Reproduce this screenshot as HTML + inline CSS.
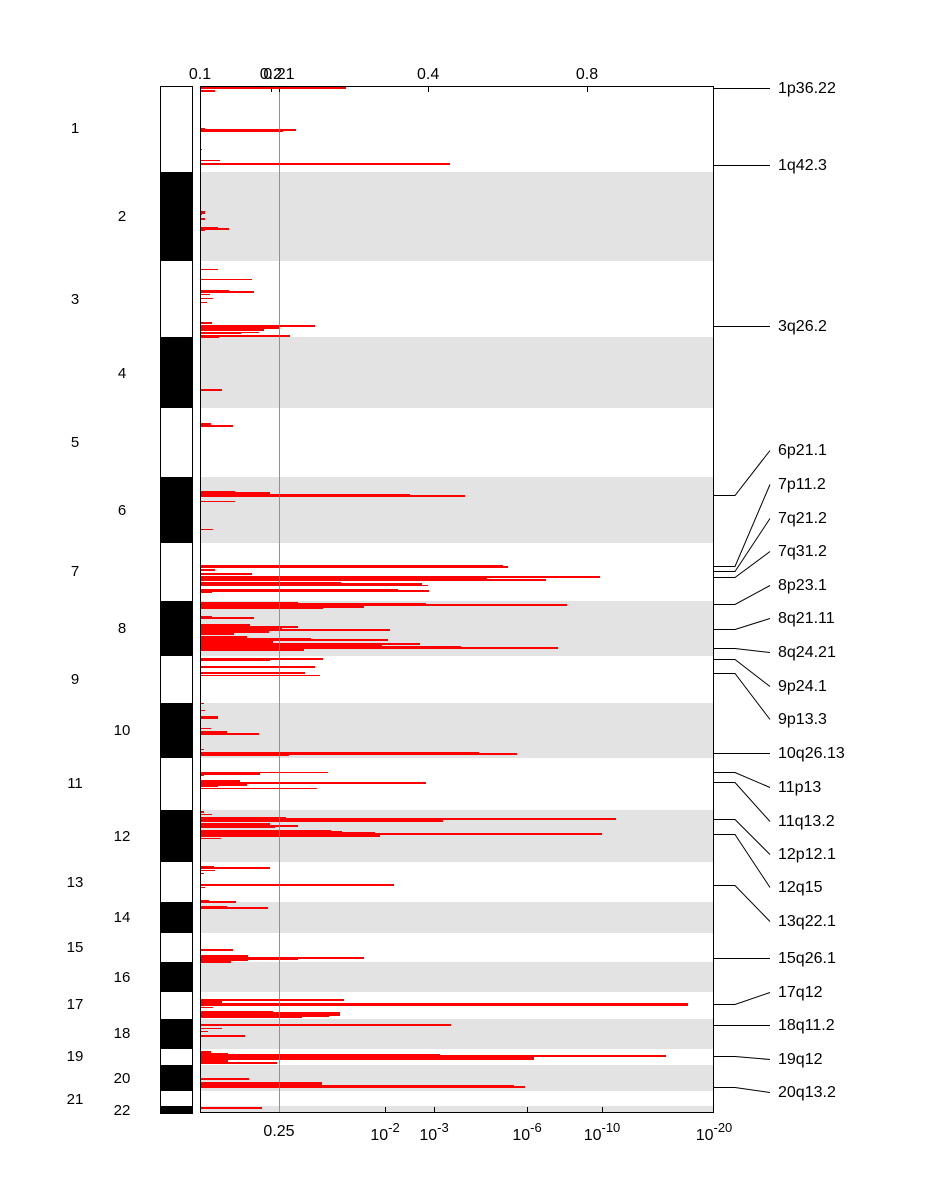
<!DOCTYPE html>
<html><head><meta charset="utf-8"><style>
body{margin:0;background:#fff;}
svg{display:block;font-family:"Liberation Sans",sans-serif;}
</style></head><body>
<svg id="chart" width="948" height="1200" viewBox="0 0 948 1200" xmlns="http://www.w3.org/2000/svg">
<g id="bands"></g>
<g id="bars"></g>
<g id="axes"></g>
<g id="peaks"></g>
</svg>
<script>
const chromNames=["1","2","3","4","5","6","7","8","9","10","11","12","13","14","15","16","17","18","19","20","21","22"];
const chromStart=[86,172,261,337,408,477,543,601,656,703,758,810,862,902,933,962,992,1019,1049,1065,1091,1106];
const chromEnd=[172,261,337,408,477,543,601,656,703,758,810,862,902,933,962,992,1019,1049,1065,1091,1106,1113];
const chromLabelY=[128,216,299,373,442,510,571,628,679,730,783,836,882,917,947,977,1004,1033,1056,1078,1099,1110];
// -log10(q) values per bar
const barPos=[88,91,129,130,131,149,160,164, 212,214,219,228,229,230, 269,279,291,292,294,298,302,323,325,326,327,328,329,330,332,333,336,337, 390,424,426,
491,493,495,496,501,529, 566,567,570,574,576,577,579,580,582,584,585,590,591,592,
603,604,605,607,608,617,618,625,627,629,630,632,634,637,639,640,642,644,645,647,648,650,
659,660,667,672,673,675, 703,710,717,728,732,734,749,753,754,755,
772,773,775,782,783,785,786,788, 812,814,818,819,821,825,826,827,831,832,833,834,836,838,
867,868,870,873,885,887, 901,902,907,908, 950,956,958,959,960,962,
1000,1002,1004,1007,1012,1014,1016,1017, 1025,1028,1031,1036,
1052,1054,1055,1056,1058,1059,1061,1063, 1079,1083,1086,1087,1108];
const barValue=[1.49,0.114,0.038,0.826,0.655,0.015,0.152,3.52, 0.038,0.015,0.038,0.137,0.221,0.038, 0.137,0.396,0.221,0.411,0.076,0.099,0.053,0.091,0.358,1.077,0.602,0.488,0.488,0.282,0.449,0.312,0.747,0.145, 0.168,0.083,0.251,
0.267,0.533,2.50,4.0,0.267,0.099, 5.23,5.39,0.114,0.396,1.47,9.89,4.71,7.01,1.42,2.755,2.88,2.27,2.90,0.09,
0.85,2.84,8.13,1.72,1.18,0.091,0.411,0.38,0.85,0.64,2.10,0.526,0.259,0.358,1.02,2.06,0.56,2.71,1.96,3.87,7.65,0.93,
1.18,0.533,1.08,0.267,0.95,1.14, 0.03,0.038,0.137,0.083,0.206,0.449,0.03,4.45,5.68,0.73,
1.25,0.457,0.03,0.305,2.84,0.358,0.137,1.10, 0.03,0.091,0.69,11.25,3.29,0.53,0.85,0.57,1.29,1.43,1.87,10.0,1.94,0.16,
0.107,0.53,0.114,0.03,2.18,0.038, 0.068,0.275,0.206,0.52, 0.251,0.366,1.72,0.85,0.366,0.236,
1.46,0.168,17.7,0.099,0.56,1.41,1.26,0.90, 3.55,0.17,0.06,0.343,
0.083,0.213,3.19,15.7,6.37,1.49,0.213,0.59, 0.37,1.17,5.58,5.94,0.47];
const barThick=[2,2,3,2,2,1,1,2, 3,1,2,3,2,1, 1,1,3,2,1,1,1,2,1,2,3,2,3,2,1,1,2,1, 2,3,2,
1,2,3,2,1,1, 3,2,2,2,1,2,3,2,1,2,1,3,2,1,
3,2,2,2,1,3,2,3,2,4,2,2,2,2,3,2,2,2,1,3,2,2,
2,1,2,1,2,1, 1,1,3,1,2,2,1,3,2,2,
1,3,1,4,2,2,2,1, 2,1,3,2,2,4,2,2,2,2,3,2,2,1,
3,2,1,1,2,1, 3,2,3,2, 2,2,2,2,2,2,
2,4,3,1,2,4,2,2, 2,1,1,2,
3,2,2,2,3,2,2,2, 2,3,3,2,2];
const bottomTickVals=[0.602,2,3,6,10,20];
const bottomTickLabels=["0.25","10-2","10-3","10-6","10-10","10-20"];
const topTickLabels=["0.1","0.2","0.21","0.4","0.8"];
const topTickVals=[0,0.54,0.602,2.88,9.2];
const peakNames=["1p36.22","1q42.3","3q26.2","6p21.1","7p11.2","7q21.2","7q31.2","8p23.1","8q21.11","8q24.21","9p24.1","9p13.3","10q26.13","11p13","11q13.2","12p12.1","12q15","13q22.1","15q26.1","17q12","18q11.2","19q12","20q13.2"];
const peakPos=[88,165,326,495,566,571,577,604,629,648,659,673,753,772,782,819,834,885,958,1004,1025,1056,1087];
const peakLabelY=[88,165,326,450,484,518,551,585,618,652,686,719,753,787,821,854,887,921,958,992,1025,1059,1092];

const NS="http://www.w3.org/2000/svg";
const X0=200,X1=714,Y0=86,Y1=1113;
const kv=[0,0.602,2,3,6,10,20], kx=[200,279,385,434,527,602,714];
function xScale(v){
  if(v<=0)return X0;
  for(let i=1;i<kv.length;i++){ if(v<=kv[i]) return kx[i-1]+(v-kv[i-1])/(kv[i]-kv[i-1])*(kx[i]-kx[i-1]); }
  return X1;
}
function mk(parent,tag,attrs){const e=document.createElementNS(NS,tag);for(const k in attrs)e.setAttribute(k,attrs[k]);parent.appendChild(e);return e;}
const bands=document.getElementById('bands'),bars=document.getElementById('bars'),axes=document.getElementById('axes'),peaks=document.getElementById('peaks');
chromNames.forEach((n,i)=>{
  const dark=i%2===1;
  const r=mk(bands,'rect',{x:160,y:chromStart[i],width:32,height:chromEnd[i]-chromStart[i],fill:dark?'#000':'#fff'});
  
  
  if(dark){const b=mk(bands,'rect',{x:X0,y:chromStart[i],width:X1-X0,height:chromEnd[i]-chromStart[i],fill:'#e3e3e3'});
    
    }
  const t=mk(bands,'text',{x:(i%2===0)?75:122,y:chromLabelY[i]+5,'font-size':15,'text-anchor':'middle',fill:'#000'});
  t.textContent=n;
  
  
});
mk(bands,'rect',{x:160.5,y:86.5,width:32,height:1027,fill:'none',stroke:'#000','stroke-width':1});
barPos.forEach((y,i)=>{
  const h=barThick[i];
  const r=mk(bars,'rect',{x:X0,y:Math.round(y-h/2),width:Math.max(1,Math.round(xScale(barValue[i])-X0)),height:h,fill:'#ff0000'});
  
  
});
const gl=mk(axes,'line',{x1:279.5,x2:279.5,y1:Y0,y2:Y1,stroke:'#5dbb4a','stroke-width':1});


const fr=mk(axes,'rect',{x:200.5,y:86.5,width:513,height:1026,fill:'none',stroke:'#000','stroke-width':1});


bottomTickVals.forEach((v,i)=>{
  const x=xScale(v);
  if(i>0&&i<5)mk(axes,'line',{x1:Math.round(x)+0.5,x2:Math.round(x)+0.5,y1:Y1,y2:Y1-6,stroke:'#000'});
  const t=mk(axes,'text',{x:x,y:1140,'font-size':16,'text-anchor':'middle',fill:'#000'});
  const lab=bottomTickLabels[i];
  if(lab.startsWith('10')){t.textContent='10';const s=mk(t,'tspan',{'font-size':13,dy:-8});s.textContent=lab.slice(2);}
  else{t.setAttribute('y',1136);t.textContent=lab;}
  
  
});
topTickVals.forEach((v,i)=>{
  const x=xScale(v);
  if(i>0)mk(axes,'line',{x1:Math.round(x)+0.5,x2:Math.round(x)+0.5,y1:Y0,y2:Y0+6,stroke:'#000'});
  const t=mk(axes,'text',{x:x,y:79,'font-size':16,'text-anchor':'middle',fill:'#000'});
  t.textContent=topTickLabels[i];
  
  
});
peakNames.forEach((n,i)=>{
  const p=mk(peaks,'polyline',{points:`714,${peakPos[i]+0.5} 735,${peakPos[i]+0.5} 770,${peakLabelY[i]+0.5}`,fill:'none',stroke:'#000','stroke-width':1});
  
  
  const t=mk(peaks,'text',{x:778,y:peakLabelY[i]+5,'font-size':16,fill:'#000'});
  t.textContent=n;
  
  
});
</script>
</body></html>
